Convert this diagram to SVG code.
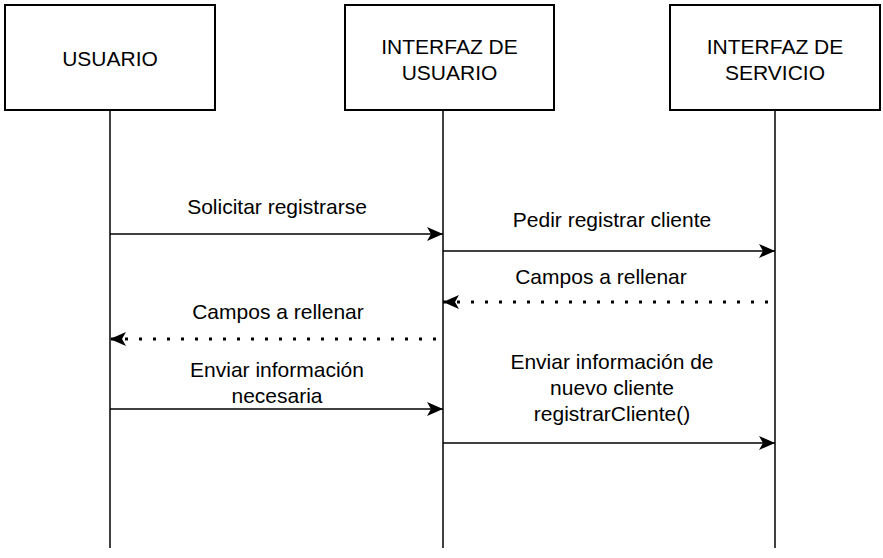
<svg xmlns="http://www.w3.org/2000/svg" width="883" height="558" viewBox="0 0 883 558">
<style>
.box{fill:#fff;stroke:#000;stroke-width:2}
.life{stroke:#000;stroke-width:1.5;fill:none}
.msg{stroke:#000;stroke-width:1.5;fill:none;marker-end:url(#arr)}
.ret{stroke:#000;stroke-width:3;fill:none;stroke-dasharray:3 11;marker-end:url(#arr2)}
text{font-family:"Liberation Sans",Arial,sans-serif;font-size:21px;fill:#000;text-anchor:middle}
</style>
<defs>
<marker id="arr" markerUnits="userSpaceOnUse" markerWidth="18" markerHeight="16" refX="16" refY="7" orient="auto" viewBox="0 0 18 14">
<path d="M0,0 L16,7 L0,14 L4,7 Z" fill="#000"/>
</marker>
<marker id="arr2" markerUnits="userSpaceOnUse" markerWidth="18" markerHeight="16" refX="16" refY="7" orient="auto" viewBox="0 0 18 14">
<path d="M0,0 L16,7 L0,14 L4,7 Z" fill="#000"/>
</marker>
</defs>
<g id="lifelines">
<line class="life" x1="110" y1="110" x2="110" y2="548"/>
<line class="life" x1="443" y1="110" x2="443" y2="548"/>
<line class="life" x1="775" y1="110" x2="775" y2="548"/>
</g>
<g id="usuario">
<rect class="box" x="5" y="5" width="210" height="105"/>
<text x="110" y="65.5">USUARIO</text>
</g>
<g id="interfaz-usuario">
<rect class="box" x="345" y="5" width="209" height="105"/>
<text x="449.5" y="53.5">INTERFAZ DE</text>
<text x="449.5" y="79.5">USUARIO</text>
</g>
<g id="interfaz-servicio">
<rect class="box" x="670" y="5" width="210" height="105"/>
<text x="775" y="53.5">INTERFAZ DE</text>
<text x="775" y="79.5">SERVICIO</text>
</g>
<g id="connectors">
<line class="msg" x1="110" y1="234" x2="443" y2="234"/>
<line class="msg" x1="443" y1="251" x2="775" y2="251"/>
<line class="ret" x1="768" y1="302" x2="443" y2="302"/>
<line class="ret" x1="436" y1="339" x2="110" y2="339"/>
<line class="msg" x1="110" y1="409" x2="443" y2="409"/>
<line class="msg" x1="443" y1="443" x2="775" y2="443"/>
</g>
<g id="labels">
<text x="277" y="214">Solicitar registrarse</text>
<text x="612" y="227">Pedir registrar cliente</text>
<text x="601" y="284">Campos a rellenar</text>
<text x="278" y="319">Campos a rellenar</text>
<text x="277" y="377">Enviar información</text>
<text x="277" y="403">necesaria</text>
<text x="612" y="369">Enviar información de</text>
<text x="612" y="395">nuevo cliente</text>
<text x="612" y="421">registrarCliente()</text>
</g>
</svg>
